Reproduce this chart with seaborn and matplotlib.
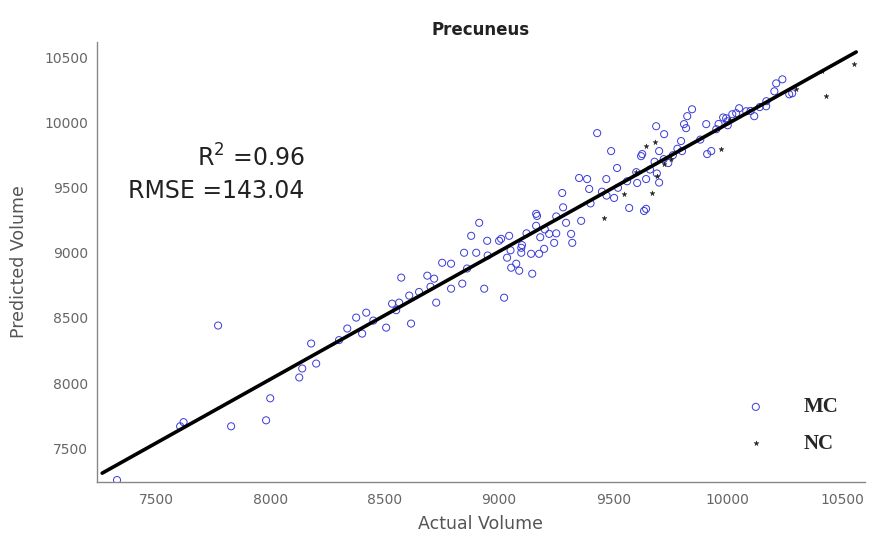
import numpy as np
import pandas as pd
import seaborn as sns
import matplotlib
matplotlib.use('Agg')
import matplotlib.pyplot as plt

# values
mc_actual = [7329, 7605, 7771, 7828, 7981, 7999, 8126, 8139, 8178, 8336, 8375, 8419, 8401, 8506,
             8615, 8532, 8563, 8572, 8607, 8686, 8716, 8725, 8751, 8790, 8790, 8839, 8847, 8878,
             8900, 8913, 8935, 8948, 9000, 9022, 9035, 9053, 9075, 9088, 9097, 9140, 9145, 9162,
             9162, 9175, 9197, 9009, 9044, 9097, 9166, 9219, 9241, 9276, 9293, 9315, 9320, 9359,
             9350, 9385, 9394, 9429, 9469, 9490, 9503, 9516, 9569, 9604, 9626, 9643, 9643, 9687,
             9700, 9722, 9796, 9809, 9823, 9844, 9634, 9621, 9818, 9906, 9928, 9910, 9993, 10020,
             10050, 10081, 10116, 10169, 10204, 10269, 10212, 10239,
             9660, 9680, 9720, 9760, 9780, 9740, 9880, 9950, 9960, 10000, 10100, 10140, 9560, 9600,
             9450, 9400, 9250, 9200, 9120, 9180, 9050, 9100, 8950, 8860, 8700, 8650, 8450, 8550,
             8300, 7620, 8200, 9280, 9520, 9470, 9980, 9690, 9700, 9250,
             9800, 9998, 10037, 10168, 10282]
mc_predicted = [7255, 7668, 8442, 7668, 7714, 7883, 8043, 8112, 8304, 8419, 8503, 8541, 8380, 8426,
                8457, 8610, 8618, 8810, 8672, 8825, 8802, 8618, 8924, 8917, 8725, 8764, 9001, 9131,
                9001, 9231, 8725, 9093, 9093, 8656, 8963, 8886, 8917, 8863, 9001, 8993, 8840, 9300,
                9208, 8993, 9031, 9108, 9131, 9039, 9284, 9146, 9077, 9460, 9231, 9146, 9077, 9246,
                9575, 9567, 9491, 9920, 9567, 9782, 9422, 9652, 9345, 9537, 9759, 9338, 9567, 9973,
                9782, 9912, 9859, 9989, 10050, 10103, 9322, 9743, 9958, 9989, 9782, 9759, 10034, 10065,
                10111, 10088, 10050, 10165, 10241, 10218, 10302, 10333,
                9640, 9700, 9720, 9750, 9800, 9690, 9870, 9950, 9990, 9980, 10090, 10120, 9550, 9620,
                9470, 9380, 9280, 9180, 9150, 9120, 9020, 9060, 8980, 8880, 8740, 8700, 8480, 8560,
                8330, 7700, 8150, 9350, 9500, 9440, 10040, 9610, 9540, 9150,
                9782, 10011, 10073, 10126, 10226]

nc_actual = [9460, 9547, 9643, 9670, 9972, 10430, 10553, 10413, 9682, 9720, 9750, 9690, 10300, 9600, 10010]
nc_predicted = [9269, 9452, 9820, 9460, 9797, 10203, 10448, 10394, 9850, 9680, 9720, 9590, 10260, 9620, 10020]

fit_range = [7264, 10562]   # x extent of the drawn fit line
r2_text = 'R$^2$ =0.96\nRMSE =143.04'

mc = pd.DataFrame({'actual': mc_actual, 'predicted': mc_predicted})
nc = pd.DataFrame({'actual': nc_actual, 'predicted': nc_predicted})
both = pd.concat([mc, nc], ignore_index=True)

sns.set_style('white')
fig = plt.figure(figsize=(8.71, 5.36), dpi=100)
ax = fig.add_axes([0.111, 0.1007, 0.882, 0.821])

sns.scatterplot(data=mc, x='actual', y='predicted', ax=ax, marker='o', s=26,
                color='blue', facecolor='none', edgecolor='#3a3ad8', linewidth=0.7, label='MC')
sns.scatterplot(data=nc, x='actual', y='predicted', ax=ax, marker='*', s=14,
                color='#222222', edgecolor='#222222', linewidth=0.3, label='NC')

# fitted line over both groups, spanning fit_range
ax.set_xlim(*fit_range)
sns.regplot(data=both, x='actual', y='predicted', ax=ax, scatter=False, ci=None,
            truncate=False, color='black', line_kws={'lw': 2.6})

ax.set_xlim(7240, 10600)
ax.set_ylim(7240, 10620)
ax.set_xticks([7500, 8000, 8500, 9000, 9500, 10000, 10500])
ax.set_yticks([7500, 8000, 8500, 9000, 9500, 10000, 10500])
ax.tick_params(direction='in', length=4, color='#777777', labelcolor='#666666', labelsize=10)
ax.tick_params(axis='x', pad=8)
ax.tick_params(axis='y', pad=6)
sns.despine(ax=ax)
for s in ['left', 'bottom']:
    ax.spines[s].set_color('#888888')
    ax.spines[s].set_linewidth(1.0)

ax.set_xlabel('Actual Volume', fontsize=12.5, color='#555555', labelpad=6)
ax.set_ylabel('Predicted Volume', fontsize=12.5, color='#555555', labelpad=12)
ax.set_title('Precuneus', fontsize=12, fontweight='bold', color='#222222', pad=5)

ax.text(0.271, 0.70, r2_text, transform=ax.transAxes, ha='right', va='center',
        multialignment='right', fontsize=17, color='#222222', linespacing=1.4)

leg = ax.legend(loc='lower right', frameon=False, bbox_to_anchor=(0.99, 0.022),
                prop={'family': 'Liberation Serif', 'weight': 'bold', 'size': 15},
                handletextpad=1.3, labelspacing=0.78, markerscale=1.0)

fig.savefig('out.png', dpi=100)
